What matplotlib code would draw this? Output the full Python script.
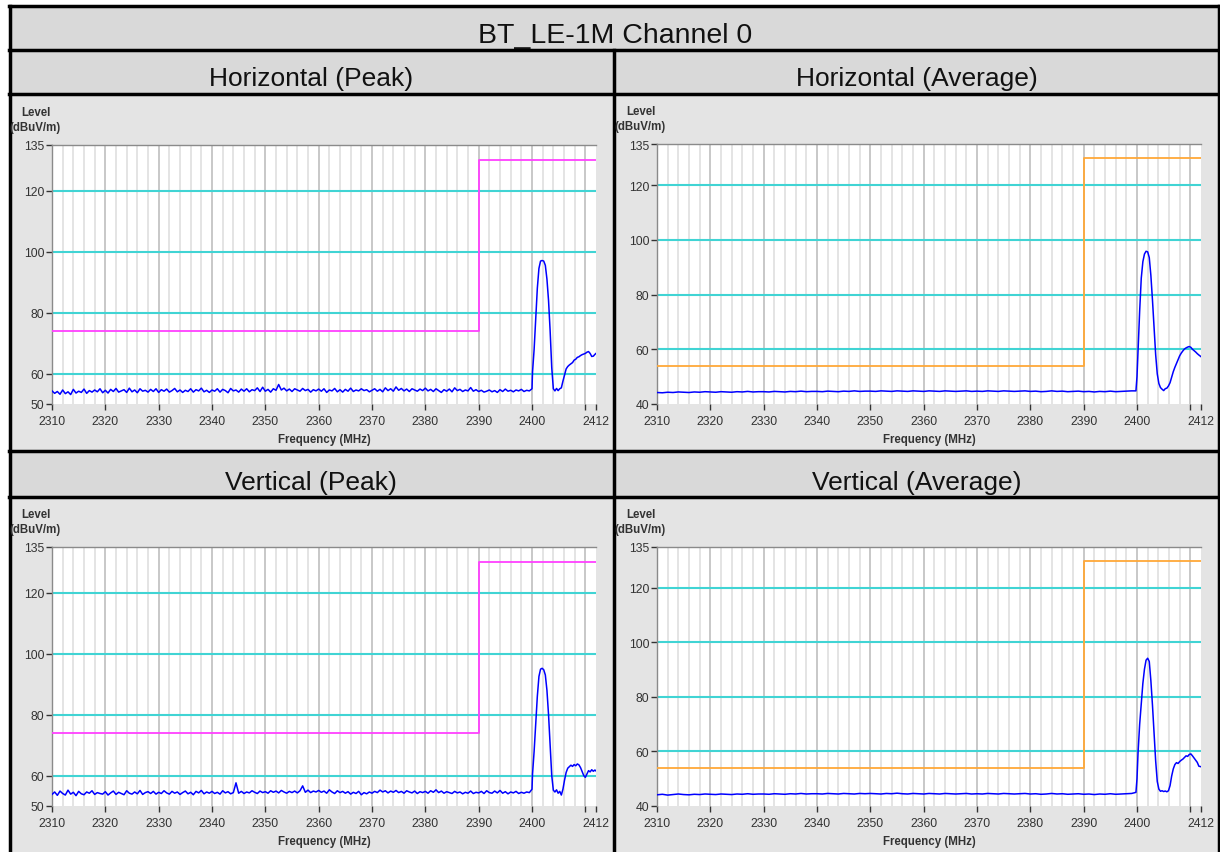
import numpy as np
import matplotlib
matplotlib.use("Agg")
import matplotlib.pyplot as plt
from matplotlib.patches import Rectangle
from matplotlib.lines import Line2D

plt.rcParams['font.family'] = ['Liberation Sans', 'DejaVu Sans']

W, H = 1220, 853

title = "BT_LE-1M Channel 0"
panel_titles = ["Horizontal (Peak)", "Horizontal (Average)", "Vertical (Peak)", "Vertical (Average)"]

x_ticks = [2310, 2320, 2330, 2340, 2350, 2360, 2370, 2380, 2390, 2400, 2410, 2412]
x_tick_labels = ["2310", "2320", "2330", "2340", "2350", "2360", "2370", "2380", "2390", "2400", "", "2412"]
peak_yticks = [50, 60, 80, 100, 120, 135]
avg_yticks = [40, 60, 80, 100, 120, 135]
cyan_levels = [60, 80, 100, 120]

# limit lines (freq, level)
limit_freq = [2310, 2390, 2390, 2412]
peak_limit = [74, 74, 130, 130]
avg_limit = [54, 54, 130, 130]

# baseline noise, 2310.0 .. 2399.5 MHz every 0.5 MHz (peak) / every 1 MHz (average)
hp_base = [
    54.3, 53.5, 54.1, 53.2, 54.6, 53.4, 54.0, 53.1, 54.8, 53.6, 54.2, 53.8, 54.9, 53.5, 54.4, 53.9, 54.6, 54.0, 55.0, 53.7,
    54.5, 53.6, 54.8, 54.1, 55.1, 53.9, 54.3, 54.7, 53.8, 55.2, 54.0, 54.6, 53.7, 55.0, 54.2, 54.5, 53.9, 54.8, 54.1, 55.0,
    53.8, 54.7, 54.2, 54.9, 53.9, 54.4, 55.1, 54.0, 54.6, 53.8, 54.5, 54.1, 55.0, 53.9, 54.7, 54.3, 55.2, 54.0, 54.5, 53.8,
    54.6, 54.2, 55.0, 53.9, 54.8, 54.4, 53.7, 55.1, 54.3, 54.6, 53.9, 54.9, 54.2, 55.0, 54.0, 54.7, 54.4, 55.3, 54.1, 55.5,
    54.2, 54.8, 53.9, 55.0, 54.5, 56.4, 54.6, 55.2, 54.3, 54.9, 54.1, 55.0, 54.6, 54.2, 55.1, 54.4, 54.8, 53.9, 54.7, 54.3,
    54.9, 54.2, 55.0, 53.8, 54.6, 54.3, 55.1, 54.0, 54.7, 53.9, 54.8, 54.2, 55.2, 54.1, 54.6, 54.3, 55.0, 54.4, 54.7, 54.0,
    54.5, 55.0, 54.2, 54.8, 54.0, 55.3, 54.4, 55.0, 54.2, 55.6, 54.5, 55.1, 54.3, 54.9, 54.1, 55.0, 54.6, 54.2, 54.9, 54.4,
    55.2, 54.3, 54.8, 54.1, 55.0, 54.4, 53.8, 54.7, 54.2, 54.9, 54.0, 55.3, 54.4, 54.8, 54.1, 54.6, 54.3, 55.4, 54.2, 54.7,
    54.1, 54.5, 53.9, 54.2, 54.6, 54.0, 54.4, 53.8, 54.7, 54.1, 54.9, 54.2, 54.5, 54.0, 54.6, 54.3, 54.8, 54.1, 54.5, 54.3,
]
vp_base = [
    53.8, 54.6, 53.5, 54.9, 54.1, 53.6, 55.2, 53.9, 54.5, 53.4, 54.8, 54.0, 53.7, 54.6, 54.2, 55.0, 53.8, 54.4, 54.1, 53.9,
    54.7, 53.6, 54.3, 54.9, 53.8, 54.5, 54.1, 53.7, 55.0, 54.2, 53.9, 54.6, 54.0, 55.1, 53.8, 54.4, 54.7, 54.1, 54.8, 53.9,
    54.5, 54.1, 55.0, 54.3, 53.9, 54.8, 54.2, 54.6, 53.8, 54.4, 54.9, 54.0, 54.5, 53.7, 54.8, 54.3, 55.1, 54.0, 54.6, 54.2,
    54.8, 54.1, 54.5, 53.9, 55.0, 54.3, 54.7, 54.0, 54.4, 57.6, 54.2, 54.8, 54.1, 54.6, 54.3, 55.0, 54.5, 54.1, 54.9, 54.4,
    54.7, 54.2, 55.0, 54.5, 54.9, 54.3, 55.1, 54.6, 54.2, 54.8, 54.4, 54.9, 54.3, 55.0, 56.6, 54.5, 55.2, 54.4, 54.9, 54.6,
    55.1, 54.5, 54.9, 54.2, 55.3, 54.6, 54.1, 55.0, 54.4, 54.8, 54.2, 54.7, 53.9, 54.5, 54.1, 54.8, 53.7, 54.4, 54.0, 54.6,
    54.2, 54.8, 54.4, 55.2, 54.6, 55.0, 54.3, 54.9, 54.5, 55.1, 54.4, 54.8, 54.2, 55.0, 54.6, 54.3, 54.9, 54.1, 54.7, 54.4,
    54.8, 54.2, 55.0, 54.5, 55.3, 54.4, 54.9, 54.2, 54.7, 54.4, 54.1, 54.8, 54.3, 54.6, 54.0, 54.5, 54.2, 54.9, 54.1, 54.5,
    54.3, 54.8, 54.1, 55.0, 54.4, 54.2, 54.9, 54.3, 55.1, 54.2, 54.7, 54.0, 54.6, 54.3, 54.8, 54.1, 54.5, 54.2, 54.6, 54.4,
]
ha_base = [
    44.2, 44.1, 44.3, 44.2, 44.4, 44.3, 44.2, 44.4, 44.3, 44.5,
    44.4, 44.3, 44.5, 44.4, 44.3, 44.5, 44.4, 44.6, 44.4, 44.5,
    44.5, 44.4, 44.6, 44.5, 44.4, 44.6, 44.5, 44.7, 44.5, 44.6,
    44.6, 44.5, 44.7, 44.6, 44.5, 44.7, 44.6, 44.8, 44.6, 44.7,
    44.7, 44.6, 44.8, 44.7, 44.6, 44.8, 44.7, 44.6, 44.8, 44.7,
    44.6, 44.8, 44.7, 44.6, 44.8, 44.7, 44.6, 44.7, 44.8, 44.6,
    44.7, 44.6, 44.8, 44.7, 44.6, 44.8, 44.7, 44.6, 44.7, 44.8,
    44.6, 44.7, 44.5, 44.6, 44.8, 44.6, 44.7, 44.5, 44.6, 44.7,
    44.5, 44.6, 44.4, 44.6, 44.5, 44.7, 44.5, 44.6, 44.7, 44.8,
]
va_base = [
    44.1, 44.3, 44.0, 44.2, 44.4, 44.2, 44.1, 44.3, 44.2, 44.4,
    44.3, 44.2, 44.4, 44.3, 44.2, 44.4, 44.3, 44.5, 44.3, 44.4,
    44.4, 44.3, 44.5, 44.4, 44.3, 44.5, 44.4, 44.6, 44.4, 44.5,
    44.5, 44.4, 44.6, 44.5, 44.4, 44.6, 44.5, 44.4, 44.6, 44.5,
    44.6, 44.5, 44.4, 44.6, 44.5, 44.7, 44.5, 44.4, 44.6, 44.5,
    44.4, 44.6, 44.5, 44.4, 44.6, 44.5, 44.4, 44.5, 44.6, 44.4,
    44.5, 44.4, 44.6, 44.5, 44.4, 44.6, 44.5, 44.4, 44.5, 44.6,
    44.4, 44.5, 44.3, 44.4, 44.6, 44.4, 44.5, 44.3, 44.4, 44.5,
    44.3, 44.4, 44.2, 44.4, 44.3, 44.5, 44.3, 44.4, 44.5, 44.6,
]

# signal region (freq MHz, level dBuV/m)
hp_sig_f = [2400.0, 2400.1, 2400.4, 2400.7, 2401.0, 2401.3, 2401.6, 2401.9, 2402.2, 2402.5, 2402.8, 2403.1, 2403.4,
            2403.7, 2404.0, 2404.3, 2404.6, 2404.9, 2405.2, 2405.5, 2405.8, 2406.1, 2406.4, 2406.7, 2407.0, 2407.3,
            2407.6, 2407.9, 2408.2, 2408.5, 2408.8, 2409.1, 2409.4, 2409.7, 2410.0, 2410.3, 2410.6, 2410.9, 2411.2,
            2411.5, 2411.8, 2412.0]
hp_sig_l = [55.0, 60.5, 68.0, 78.0, 88.0, 94.5, 96.9, 97.1, 96.9, 95.5, 91.0, 84.0, 74.0,
            62.0, 55.0, 54.3, 55.1, 54.4, 55.0, 55.3, 57.5, 59.5, 61.5, 62.3, 62.8, 63.2,
            63.6, 64.4, 64.7, 65.3, 65.5, 65.9, 66.2, 66.4, 66.6, 67.0, 67.2, 66.6, 65.6,
            65.7, 66.3, 66.6]
vp_sig_f = hp_sig_f
vp_sig_l = [55.5, 60.5, 68.0, 77.0, 86.0, 92.5, 94.9, 95.2, 94.7, 93.0, 88.0, 80.0, 70.0,
            60.0, 55.2, 54.6, 55.3, 54.2, 54.8, 53.6, 55.5, 58.5, 61.0, 62.4, 62.9, 63.4,
            63.0, 63.6, 63.2, 63.8, 63.5, 62.6, 61.3, 60.0, 59.4, 60.5, 61.6, 61.2, 61.9,
            61.4, 61.8, 61.5]
ha_sig_f = [2399.8, 2400.0, 2400.2, 2400.5, 2400.8, 2401.1, 2401.4, 2401.7, 2402.0, 2402.3, 2402.6, 2402.9, 2403.2,
            2403.5, 2403.8, 2404.1, 2404.4, 2404.7, 2405.0, 2405.3, 2405.6, 2405.9, 2406.2, 2406.5, 2406.8, 2407.1,
            2407.4, 2407.7, 2408.0, 2408.3, 2408.6, 2408.9, 2409.2, 2409.5, 2409.8, 2410.1, 2410.4, 2410.7, 2411.0,
            2411.3, 2411.6, 2412.0]
ha_sig_l = [44.8, 50.0, 60.0, 74.0, 86.0, 92.0, 94.8, 95.8, 95.6, 93.5, 87.0, 78.0, 68.0,
            58.0, 51.0, 47.5, 46.0, 45.4, 44.9, 45.6, 45.8, 46.6, 47.8, 49.8, 51.8, 53.4,
            54.8, 56.2, 57.6, 58.6, 59.4, 60.1, 60.5, 60.8, 61.0, 60.7, 60.0, 59.5, 59.0,
            58.4, 57.9, 57.3]
va_sig_f = ha_sig_f
va_sig_l = [45.0, 50.0, 59.7, 70.0, 77.5, 85.0, 90.2, 93.5, 94.2, 93.0, 86.0, 77.0, 67.0,
            56.5, 49.0, 46.2, 45.4, 45.6, 45.3, 45.5, 45.2, 45.6, 47.5, 51.0, 53.6, 55.2,
            55.9, 55.6, 56.3, 56.8, 57.2, 57.8, 58.4, 58.2, 58.9, 59.1, 58.4, 57.6, 56.8,
            56.0, 54.6, 54.4]

peak_base_f = np.arange(len(hp_base)) * 0.5 + 2310.0
avg_base_f = np.arange(len(ha_base)) * 1.0 + 2310.0

HEADER_BG = "#d9d9d9"
PANEL_BG = "#e4e4e4"
BLUE = "#0000ff"
CYAN = "#40d4d4"
MAGENTA = "#ff40ff"
ORANGE = "#ffa838"

fig = plt.figure(figsize=(W / 100, H / 100), dpi=100)
fig.patch.set_facecolor("white")


def fx(px):
    return px / W


def fy(py):
    return 1 - py / H


def rect(x0, y0, x1, y1, color):
    fig.patches.append(Rectangle((fx(x0), fy(y1)), fx(x1) - fx(x0), fy(y0) - fy(y1),
                                 transform=fig.transFigure, facecolor=color, edgecolor="none", zorder=-10))


def hline(y, x0, x1, lw=2.5):
    fig.lines.append(Line2D([fx(x0), fx(x1)], [fy(y), fy(y)], transform=fig.transFigure,
                            color="black", lw=lw, zorder=5))


def vline(x, y0, y1, lw=2.5):
    fig.lines.append(Line2D([fx(x), fx(x)], [fy(y0), fy(y1)], transform=fig.transFigure,
                            color="black", lw=lw, zorder=5))


# table backgrounds
rect(9, 7, 1220, 51, HEADER_BG)
rect(9, 51, 1220, 95, HEADER_BG)
rect(9, 95, 1220, 452, PANEL_BG)
rect(9, 452, 1220, 498, HEADER_BG)
rect(9, 498, 1220, 853, PANEL_BG)

for yy in [7, 51, 95, 452, 498]:
    hline(yy, 9, 1220)
vline(9.5, 7, 853)
vline(1219, 7, 853)
vline(614, 51, 853)

fig.text(fx(615), fy(36), title, ha="center", va="center", fontsize=20.5, color="#111111", zorder=6)
header_pos = [(311, 79), (917, 79), (311, 483), (917, 483)]
for (hx, hy), t in zip(header_pos, panel_titles):
    fig.text(fx(hx), fy(hy), t, ha="center", va="center", fontsize=19, color="#111111", zorder=6)

panels = [
    # left, right, top, bottom px, yticks, base_f, base_l, sig_f, sig_l, limit, limitcolor
    (52, 596, 146, 405, peak_yticks, peak_base_f, hp_base, hp_sig_f, hp_sig_l, peak_limit, MAGENTA),
    (657, 1201, 145, 405, avg_yticks, avg_base_f, ha_base, ha_sig_f, ha_sig_l, avg_limit, ORANGE),
    (52, 596, 548, 807, peak_yticks, peak_base_f, vp_base, vp_sig_f, vp_sig_l, peak_limit, MAGENTA),
    (657, 1201, 548, 807, avg_yticks, avg_base_f, va_base, va_sig_f, va_sig_l, avg_limit, ORANGE),
]

for (l, r, t, b, yt, bf, bl, sf, sl, lim, lc) in panels:
    ax = fig.add_axes([fx(l), fy(b), fx(r) - fx(l), fy(t) - fy(b)])
    ax.set_facecolor("white")
    ax.set_xlim(2310, 2412)
    ax.set_ylim(yt[0], yt[-1])
    # vertical grid every 2 MHz
    for g in range(2312, 2412, 2):
        col = "#c8c8c8" if g % 10 == 0 else "#e4e4e4"
        ax.axvline(g, color=col, lw=1.4, zorder=1)
    for c in cyan_levels:
        ax.axhline(c, color=CYAN, lw=1.5, zorder=2)
    ax.plot(limit_freq, lim, color=lc, lw=1.3, zorder=3)
    ax.plot(list(bf) + list(sf), list(bl) + list(sl), color=BLUE, lw=1.1, zorder=4)
    for s in ["right", "bottom"]:
        ax.spines[s].set_visible(False)
    for s in ["left", "top"]:
        ax.spines[s].set_color("#8a8a8a")
        ax.spines[s].set_linewidth(1.0)
    ax.set_xticks(x_ticks)
    ax.set_xticklabels(x_tick_labels)
    ax.set_yticks(yt)
    ax.tick_params(axis="both", labelsize=8.8, colors="#333333", length=4, width=1)
    ax.tick_params(axis="x", pad=4)
    ax.tick_params(axis="y", pad=1.5)
    ax.set_xlabel("Frequency (MHz)", fontsize=8.3, fontweight="bold", color="#333333", labelpad=4)
    fig.text(fx(l - 16), fy(t - 33), "Level", ha="center", va="center", fontsize=8.3,
             fontweight="bold", color="#333333", zorder=6)
    fig.text(fx(l - 17), fy(t - 18), "(dBuV/m)", ha="center", va="center", fontsize=8.3,
             fontweight="bold", color="#333333", zorder=6)

fig.savefig("out.png", dpi=100, facecolor=fig.get_facecolor())
